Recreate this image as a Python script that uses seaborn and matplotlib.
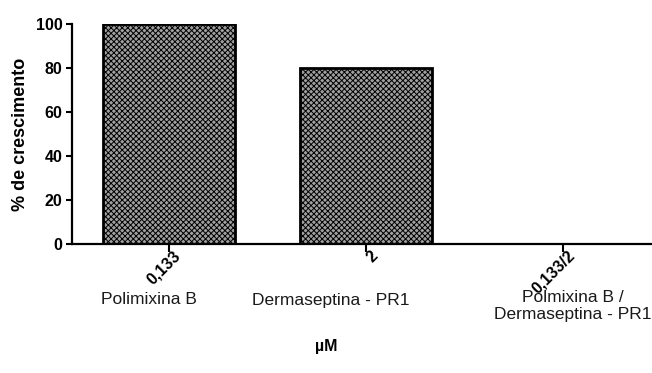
import matplotlib
matplotlib.use("Agg")
import matplotlib.pyplot as plt
import matplotlib.transforms as mtransforms
import seaborn as sns
import pandas as pd

# Growth (%) for each treatment and concentration
concentracoes = ["0,133", "2", "0,133/2"]
tratamentos = ["Polimixina B", "Dermaseptina - PR1", "Polmixina B /\nDermaseptina - PR1"]
crescimento = [100, 80, 0]

df = pd.DataFrame({"conc": concentracoes, "crescimento": crescimento})

sns.set_theme(style="white")
plt.rcParams["font.family"] = ["Liberation Sans", "DejaVu Sans"]
plt.rcParams["hatch.linewidth"] = 0.7
plt.rcParams["text.color"] = "black"
plt.rcParams["axes.labelcolor"] = "black"
plt.rcParams["xtick.color"] = "black"
plt.rcParams["ytick.color"] = "black"

fig = plt.figure(figsize=(6.52, 3.73), dpi=100)
ax = fig.add_axes([0.1097, 0.3458, 0.8903, 0.5899])

sns.barplot(data=df, x="conc", y="crescimento", ax=ax, width=0.67,
            color="#a0a0a0", edgecolor="black", linewidth=2.0,
            saturation=1)
for p in ax.patches:
    p.set_hatch("xxxxxx")
    p.set_edgecolor("black")

ax.set_ylim(0, 100)
ax.set_xlim(-0.497, 2.45)
ax.set_yticks([0, 20, 40, 60, 80, 100])
ax.set_xlabel("")
ax.set_ylabel("% de crescimento", fontsize=13, fontweight="bold", labelpad=5)

for s in ["top", "right"]:
    ax.spines[s].set_visible(False)
for s in ["left", "bottom"]:
    ax.spines[s].set_color("black")
    ax.spines[s].set_linewidth(1.6)

ax.tick_params(axis="y", direction="out", length=4.5, width=1.5,
               labelsize=11.5, pad=2, left=True)
ax.tick_params(axis="x", direction="out", length=6, width=1.5,
               labelsize=11.5, pad=2, bottom=True)
for t in ax.get_yticklabels():
    t.set_fontweight("bold")
# Rotated concentration labels, nudged so they end just right of each tick
shift = mtransforms.ScaledTranslation(9 / 100, 2 / 100, fig.dpi_scale_trans)
for t in ax.get_xticklabels():
    t.set_fontweight("bold")
    t.set_rotation(45)
    t.set_ha("right")
    t.set_va("center")
    t.set_rotation_mode("anchor")
    t.set_transform(t.get_transform() + shift)

# Treatment names under the concentration labels
nome_x = [149, 331, 573]
nome_y = [300, 300, 306]
for nome, x, y in zip(tratamentos, nome_x, nome_y):
    fig.text(x / 652, 1 - y / 373, nome, ha="center", va="center",
             fontsize=12.5, color="#1a1a1a", linespacing=1.15)

fig.text(326 / 652, 1 - 346 / 373, "µM", ha="center", va="center",
         fontsize=11.5, fontweight="bold")

fig.savefig("out.png", dpi=100)
